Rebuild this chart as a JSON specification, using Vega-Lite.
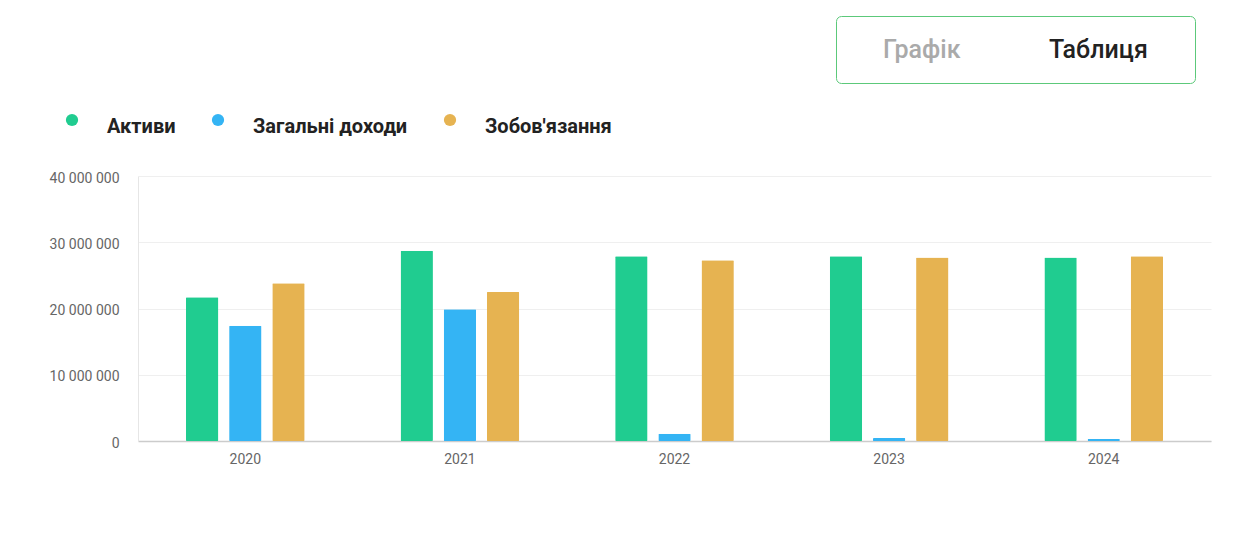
{
  "$schema": "https://vega.github.io/schema/vega-lite/v6.json",
  "width": 1073,
  "height": 265,
  "autosize": {"type": "none"},
  "padding": {"left": 138, "top": 176, "right": 35, "bottom": 107},
  "background": "#ffffff",
  "data": {
    "values": [
      {"year": "2020", "series": "Активи", "value": 21700000},
      {"year": "2020", "series": "Загальні доходи", "value": 17400000},
      {"year": "2020", "series": "Зобов'язання", "value": 23800000},
      {"year": "2021", "series": "Активи", "value": 28700000},
      {"year": "2021", "series": "Загальні доходи", "value": 19900000},
      {"year": "2021", "series": "Зобов'язання", "value": 22500000},
      {"year": "2022", "series": "Активи", "value": 27900000},
      {"year": "2022", "series": "Загальні доходи", "value": 1100000},
      {"year": "2022", "series": "Зобов'язання", "value": 27300000},
      {"year": "2023", "series": "Активи", "value": 27900000},
      {"year": "2023", "series": "Загальні доходи", "value": 450000},
      {"year": "2023", "series": "Зобов'язання", "value": 27700000},
      {"year": "2024", "series": "Активи", "value": 27700000},
      {"year": "2024", "series": "Загальні доходи", "value": 300000},
      {"year": "2024", "series": "Зобов'язання", "value": 27900000}
    ]
  },
  "mark": {"type": "bar", "cornerRadius": 1},
  "encoding": {
    "x": {
      "field": "year",
      "type": "nominal",
      "title": null,
      "scale": {"paddingInner": 0.447, "paddingOuter": 0.2235},
      "axis": {
        "labelAngle": 0,
        "ticks": false,
        "labelPadding": 11,
        "labelColor": "#666666",
        "labelFontSize": 14,
        "domainColor": "#cccccc",
        "domainWidth": 1.5
      }
    },
    "xOffset": {
      "field": "series",
      "type": "nominal",
      "sort": ["Активи", "Загальні доходи", "Зобов'язання"],
      "scale": {"paddingInner": 0.25, "paddingOuter": 0}
    },
    "y": {
      "field": "value",
      "type": "quantitative",
      "title": null,
      "scale": {"domain": [0, 40000000]},
      "axis": {
        "values": [0, 10000000, 20000000, 30000000, 40000000],
        "labelExpr": "replace(format(datum.value, ','), regexp(',', 'g'), ' ')",
        "ticks": false,
        "labelPadding": 19,
        "labelOffset": 2,
        "labelColor": "#666666",
        "labelFontSize": 14,
        "gridColor": "#efefef",
        "domainColor": "#e6e6e6"
      }
    },
    "color": {
      "field": "series",
      "type": "nominal",
      "sort": ["Активи", "Загальні доходи", "Зобов'язання"],
      "scale": {
        "domain": ["Активи", "Загальні доходи", "Зобов'язання"],
        "range": ["#20cc90", "#34b4f4", "#e6b351"]
      },
      "legend": {
        "title": null,
        "orient": "none",
        "legendX": -76,
        "legendY": -66,
        "direction": "horizontal",
        "padding": 0,
        "symbolType": "circle",
        "symbolSize": 150,
        "symbolStrokeWidth": 0,
        "labelFontSize": 20,
        "labelFontWeight": "bold",
        "labelColor": "#222222",
        "labelOffset": 25,
        "columnPadding": 32,
        "labelLimit": 300,
        "encode": {"labels": {"update": {"dy": {"value": 7}}}}
      }
    },
    "opacity": {
      "datum": "Графік",
      "type": "nominal",
      "scale": {"domain": ["Графік", "Таблиця"], "range": [1, 1]},
      "legend": {
        "orient": "none",
        "legendX": 698,
        "legendY": -160,
        "direction": "horizontal",
        "padding": 20,
        "strokeColor": "#5cc97a",
        "cornerRadius": 5,
        "symbolType": "M0,0",
        "symbolSize": 729,
        "symbolStrokeWidth": 0,
        "labelOffset": 0,
        "columnPadding": 61,
        "labelFontSize": 25,
        "labelFontWeight": 500,
        "labelColor": {"expr": "datum.label == 'Графік' ? '#aaaaaa' : '#222222'"},
        "labelLimit": 300,
        "title": ".",
        "titleOrient": "right",
        "titleFontSize": 12,
        "titlePadding": 23,
        "titleOpacity": 0
      }
    }
  },
  "config": {
    "font": "Roboto",
    "view": {"stroke": null},
    "axis": {"labelFont": "Roboto"},
    "legend": {"labelFont": "Roboto"}
  }
}
